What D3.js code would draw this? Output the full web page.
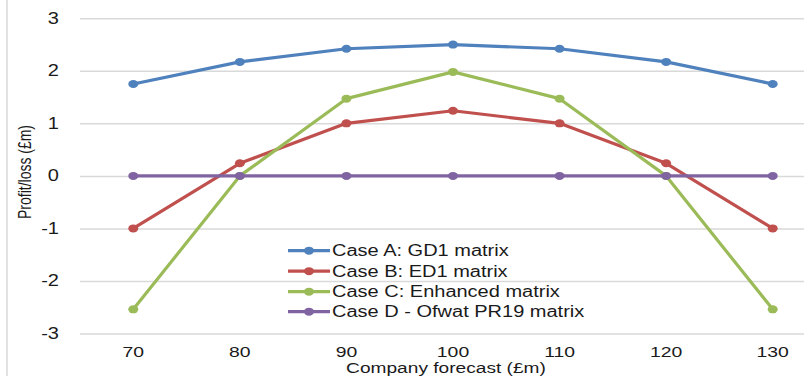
<!DOCTYPE html>
<html>
<head>
<meta charset="utf-8">
<script src="https://cdn.jsdelivr.net/npm/d3@7"></script>
<style>
  html, body { margin: 0; padding: 0; background: #fff; }
  svg { display: block; }
  text { font-family: "Liberation Sans", Arial, sans-serif; fill: #1a1a1a; }
</style>
</head>
<body>
<svg id="chart" width="804" height="376"></svg>
<script>
// Company forecast categories (£m)
const forecasts = ["70", "80", "90", "100", "110", "120", "130"];

// Profit / loss (£m) for each incentive matrix
const caseA = [1.75, 2.17, 2.42, 2.5, 2.42, 2.17, 1.75];
const caseB = [-1.0, 0.24, 1.0, 1.24, 1.0, 0.24, -1.0];
const caseC = [-2.54, 0.0, 1.47, 1.98, 1.47, 0.0, -2.54];
const caseD = [0, 0, 0, 0, 0, 0, 0];

const seriesNames = [
  "Case A: GD1 matrix",
  "Case B: ED1 matrix",
  "Case C: Enhanced matrix",
  "Case D - Ofwat PR19 matrix"
];
const seriesColors = ["#4F81BD", "#C0504D", "#9BBB59", "#8064A2"];
const yTicks = [3, 2, 1, 0, -1, -2, -3];

const series = [caseA, caseB, caseC, caseD].map((values, i) => ({
  name: seriesNames[i],
  color: seriesColors[i],
  values: values.map((v, j) => ({ x: forecasts[j], y: v }))
}));

const svg = d3.select("#chart");
const W = 804, H = 376;
const SX = 1.25; // horizontal text stretch

const plot = { left: 80, right: 826, top: 18.3, bottom: 333.5 };

const x = d3.scalePoint().domain(forecasts).range([plot.left, plot.right]).padding(0.5);
const y = d3.scaleLinear().domain([-3, 3]).range([plot.bottom, plot.top]);

// Left frame edge
svg.append("line")
  .attr("x1", 7).attr("x2", 7).attr("y1", 0).attr("y2", H)
  .attr("stroke", "#d9d9d9").attr("stroke-width", 1.5);

// Horizontal gridlines
const yAxis = d3.axisLeft(y).tickValues(yTicks).tickSize(-(W - plot.left)).tickFormat("");
const gy = svg.append("g").attr("transform", `translate(${plot.left},0)`).call(yAxis);
gy.select(".domain").remove();
gy.selectAll(".tick line").attr("stroke", "#d9d9d9").attr("stroke-width", 1.5);

// Y tick labels
svg.append("g").selectAll("text")
  .data(yTicks)
  .join("text")
  .attr("transform", d => `translate(59,${y(d) + 5.5}) scale(${SX},1)`)
  .attr("text-anchor", "end")
  .attr("font-size", 16)
  .text(d => d);

// X tick labels
svg.append("g").selectAll("text")
  .data(forecasts)
  .join("text")
  .attr("transform", d => `translate(${x(d)},356.5) scale(${SX},1)`)
  .attr("text-anchor", "middle")
  .attr("font-size", 15.5)
  .text(d => d);

// Axis titles
svg.append("text")
  .attr("transform", `translate(${x("100") - 7},372.8) scale(1.32,1)`)
  .attr("text-anchor", "middle")
  .attr("font-size", 14.5)
  .text("Company forecast (£m)");

svg.append("text")
  .attr("transform", `translate(30.5,172) scale(${SX},1) rotate(-90)`)
  .attr("text-anchor", "middle")
  .attr("font-size", 14)
  .text("Profit/loss (£m)");

// Series lines and markers
const line = d3.line().x(d => x(d.x)).y(d => y(d.y));
const gs = svg.append("g").selectAll("g").data(series).join("g");
gs.append("path")
  .attr("d", d => line(d.values))
  .attr("fill", "none")
  .attr("stroke", d => d.color)
  .attr("stroke-width", 3.2)
  .attr("stroke-linejoin", "round");
gs.selectAll("ellipse")
  .data(d => d.values.map(v => ({ ...v, color: d.color })))
  .join("ellipse")
  .attr("cx", d => x(d.x))
  .attr("cy", d => y(d.y))
  .attr("rx", 5)
  .attr("ry", 4)
  .attr("fill", d => d.color);

// Legend
const legendRows = [250.7, 271.2, 291.7, 311.7];
const lg = svg.append("g").selectAll("g").data(series).join("g")
  .attr("transform", (d, i) => `translate(288,${legendRows[i]})`);
lg.append("line")
  .attr("x1", 0).attr("x2", 42).attr("y1", 0).attr("y2", 0)
  .attr("stroke", d => d.color).attr("stroke-width", 3.2);
lg.append("ellipse")
  .attr("cx", 21).attr("cy", 0).attr("rx", 5).attr("ry", 4)
  .attr("fill", d => d.color);
lg.append("text")
  .attr("transform", `translate(44,5.5) scale(${SX},1)`)
  .attr("font-size", 16)
  .text(d => d.name);
</script>
</body>
</html>
